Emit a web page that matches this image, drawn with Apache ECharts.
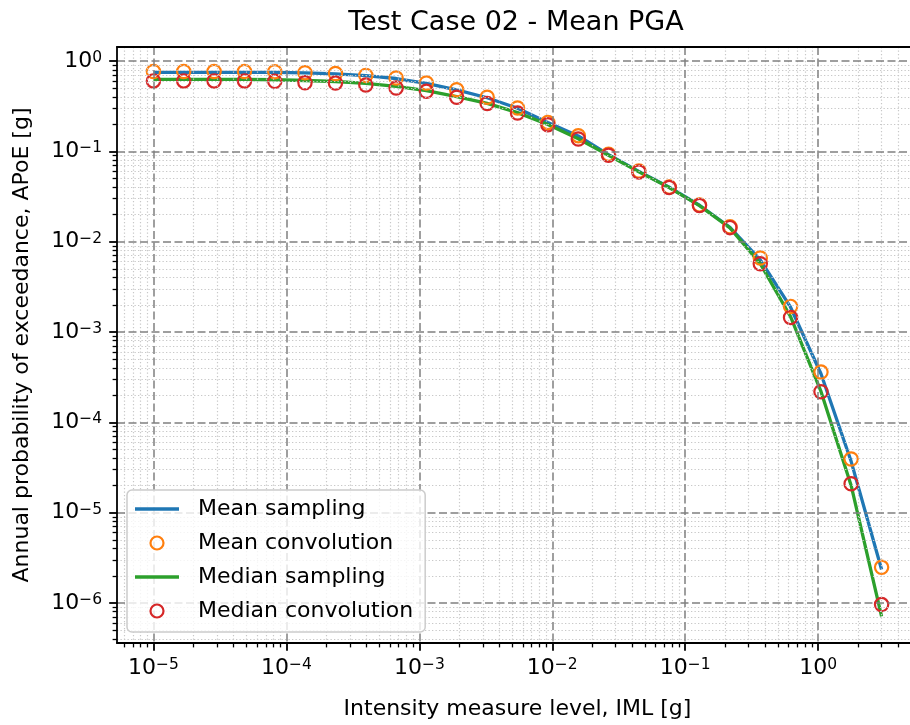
<!DOCTYPE html>
<html>
<head>
<meta charset="utf-8">
<script src="https://cdn.jsdelivr.net/npm/echarts@6/dist/echarts.min.js"></script>
<style>
html, body { margin: 0; padding: 0; background: #ffffff; }
#chart { width: 910px; height: 725px; }
</style>
</head>
<body>
<div id="chart"></div>
<script>
// Intensity measure levels [g]
const iml = [1.0e-5, 1.69e-5, 2.86e-5, 4.84e-5, 8.18e-5, 1.38e-4, 2.34e-4, 3.96e-4,
  6.69e-4, 1.13e-3, 1.91e-3, 3.24e-3, 5.48e-3, 9.26e-3, 1.57e-2, 2.65e-2, 4.48e-2,
  7.58e-2, 0.128, 0.217, 0.367, 0.620, 1.05, 1.77, 3.0];

// Annual probability of exceedance for each IML
const meanSampling = [0.75, 0.75, 0.75, 0.75, 0.748, 0.738, 0.722, 0.69, 0.64, 0.566,
  0.478, 0.392, 0.300, 0.209, 0.148, 0.092, 0.060, 0.0400, 0.0253, 0.0144, 0.0063,
  0.00188, 3.45e-4, 3.7e-5, 2.35e-6];
const meanConvolution = [0.765, 0.765, 0.765, 0.765, 0.76, 0.742, 0.728, 0.693, 0.648,
  0.571, 0.481, 0.397, 0.302, 0.209, 0.149, 0.093, 0.0605, 0.0402, 0.0255, 0.0146,
  0.0066, 0.00192, 3.6e-4, 3.93e-5, 2.48e-6];
const medianSampling = [0.625, 0.625, 0.625, 0.625, 0.62, 0.608, 0.593, 0.565, 0.525,
  0.47, 0.404, 0.34, 0.268, 0.198, 0.138, 0.0905, 0.0592, 0.0397, 0.0251, 0.0142,
  0.0057, 0.00148, 2.2e-4, 2.0e-5, 7.1e-7];
const medianConvolution = [0.602, 0.602, 0.602, 0.602, 0.595, 0.575, 0.571, 0.542,
  0.502, 0.463, 0.397, 0.338, 0.266, 0.197, 0.137, 0.0905, 0.059, 0.0397, 0.0251,
  0.0143, 0.0057, 0.00145, 2.18e-4, 2.09e-5, 9.6e-7];

// Decade exponents carrying tick labels
const xDecades = [-5, -4, -3, -2, -1, 0];
const yDecades = [-6, -5, -4, -3, -2, -1, 0];

const FONT = 'DejaVu Sans';
// Axis extents in log10 units
const X_MIN = -5.274, X_MAX = 0.751;
const Y_MIN = -6.443, Y_MAX = 0.155;

// Minor tick positions (2..9 within each decade) in log10 units
function minorLogs(lo, hi) {
  const out = [];
  for (let n = Math.floor(lo); n <= Math.ceil(hi); n++) {
    for (let k = 2; k <= 9; k++) {
      const v = n + Math.log10(k);
      if (v >= lo && v <= hi) out.push(v);
    }
  }
  return out;
}

function supText(e) {
  const s = e < 0 ? '\u2212' + Math.abs(e) : String(Math.abs(e));
  return '{b|10}{s|' + s + '}';
}

const richLabel = {
  b: { fontFamily: FONT, fontSize: 22, lineHeight: 22, color: '#000', padding: [3, 0, 0, 0], verticalAlign: 'bottom' },
  s: { fontFamily: FONT, fontSize: 15.5, lineHeight: 16, color: '#000', verticalAlign: 'top' }
};

function toPairs(ys) {
  return iml.map((x, i) => [Math.log10(x), Math.log10(ys[i])]);
}

const majorGrid = { show: true, lineStyle: { color: '#808080', width: 1.5, type: [8, 3.5] } };
const minorGrid = { show: true, lineStyle: { color: '#c8c8c8', width: 1.2, type: [1.3, 2.2] } };

const chart = echarts.init(document.getElementById('chart'), null, { renderer: 'canvas' });

chart.setOption({
  animation: false,
  backgroundColor: '#ffffff',
  title: {
    text: 'Test Case 02 - Mean PGA',
    left: 511, top: 4, textAlign: 'center',
    textStyle: { fontFamily: FONT, fontSize: 27, fontWeight: 'normal', color: '#000' }
  },
  grid: {
    left: 117, top: 47, width: 801, height: 596,
    outerBoundsMode: 'none', containLabel: false, show: false
  },
  legend: {
    orient: 'vertical', left: 127, top: 490,
    padding: [8, 12, 10, 8],
    itemWidth: 44, itemHeight: 13, itemGap: 12,
    backgroundColor: 'rgba(255,255,255,0.8)',
    borderColor: '#cccccc', borderWidth: 1.5, borderRadius: 5,
    selectedMode: false, z: 20,
    textStyle: { fontFamily: FONT, fontSize: 22, lineHeight: 22, color: '#000', padding: [0, 0, 0, 14] },
    data: [
      { name: 'Mean sampling', icon: 'path://M0 0H44V3.3H0Z', itemStyle: { color: '#1f77b4', borderWidth: 0 } },
      { name: 'Mean convolution', icon: 'circle', itemStyle: { color: 'rgba(0,0,0,0)', borderColor: '#ff7f0e', borderWidth: 2.2 } },
      { name: 'Median sampling', icon: 'path://M0 0H44V3.3H0Z', itemStyle: { color: '#2ca02c', borderWidth: 0 } },
      { name: 'Median convolution', icon: 'circle', itemStyle: { color: 'rgba(0,0,0,0)', borderColor: '#d62728', borderWidth: 2.2 } }
    ]
  },
  xAxis: [
    {
      type: 'value', min: X_MIN, max: X_MAX, position: 'bottom', z: 5,
      name: 'Intensity measure level, IML [g]', nameLocation: 'middle', nameGap: 55,
      nameTextStyle: { fontFamily: FONT, fontSize: 22, color: '#000' },
      axisLine: { show: true, onZero: false, lineStyle: { color: '#000', width: 1.8 } },
      axisTick: { show: true, customValues: xDecades, length: 7.8, lineStyle: { color: '#000', width: 1.8 } },
      axisLabel: { show: true, customValues: xDecades, margin: 14, formatter: v => supText(Math.round(v)), rich: richLabel },
      splitLine: majorGrid
    },
    {
      type: 'value', min: X_MIN, max: X_MAX, position: 'bottom', z: 4,
      axisLine: { show: false, onZero: false },
      axisTick: { show: true, customValues: minorLogs(X_MIN, X_MAX), length: 4.4, lineStyle: { color: '#000', width: 1.3 } },
      axisLabel: { show: false },
      splitLine: minorGrid
    },
    {
      // top frame line
      type: 'value', min: X_MIN, max: X_MAX, position: 'top', z: 5,
      axisLine: { show: true, onZero: false, lineStyle: { color: '#000', width: 1.8 } },
      axisTick: { show: false }, axisLabel: { show: false }, splitLine: { show: false }
    }
  ],
  yAxis: [
    {
      type: 'value', min: Y_MIN, max: Y_MAX, position: 'left', z: 5,
      name: 'Annual probability of exceedance, APoE [g]', nameLocation: 'middle', nameGap: 84,
      nameTextStyle: { fontFamily: FONT, fontSize: 22, color: '#000' },
      axisLine: { show: true, onZero: false, lineStyle: { color: '#000', width: 1.8 } },
      axisTick: { show: true, customValues: yDecades, length: 7.8, lineStyle: { color: '#000', width: 1.8 } },
      axisLabel: { show: true, customValues: yDecades, margin: 15, formatter: v => supText(Math.round(v)), rich: richLabel },
      splitLine: majorGrid
    },
    {
      type: 'value', min: Y_MIN, max: Y_MAX, position: 'left', z: 4,
      axisLine: { show: false, onZero: false },
      axisTick: { show: true, customValues: minorLogs(Y_MIN, Y_MAX), length: 4.4, lineStyle: { color: '#000', width: 1.3 } },
      axisLabel: { show: false },
      splitLine: minorGrid
    }
  ],
  series: [
    {
      name: 'Mean sampling', type: 'line', data: toPairs(meanSampling),
      showSymbol: false, symbol: 'none', z: 3,
      itemStyle: { color: '#1f77b4' },
      lineStyle: { color: '#1f77b4', width: 3.3 }
    },
    {
      name: 'Mean convolution', type: 'scatter', data: toPairs(meanConvolution),
      symbol: 'circle', symbolSize: 13.3, z: 3,
      itemStyle: { color: 'rgba(0,0,0,0)', borderColor: '#ff7f0e', borderWidth: 2.2, opacity: 1 }
    },
    {
      name: 'Median sampling', type: 'line', data: toPairs(medianSampling),
      showSymbol: false, symbol: 'none', z: 3,
      itemStyle: { color: '#2ca02c' },
      lineStyle: { color: '#2ca02c', width: 3.3 }
    },
    {
      name: 'Median convolution', type: 'scatter', data: toPairs(medianConvolution),
      symbol: 'circle', symbolSize: 13.3, z: 3,
      itemStyle: { color: 'rgba(0,0,0,0)', borderColor: '#d62728', borderWidth: 2.2, opacity: 1 }
    }
  ]
});
</script>
</body>
</html>
